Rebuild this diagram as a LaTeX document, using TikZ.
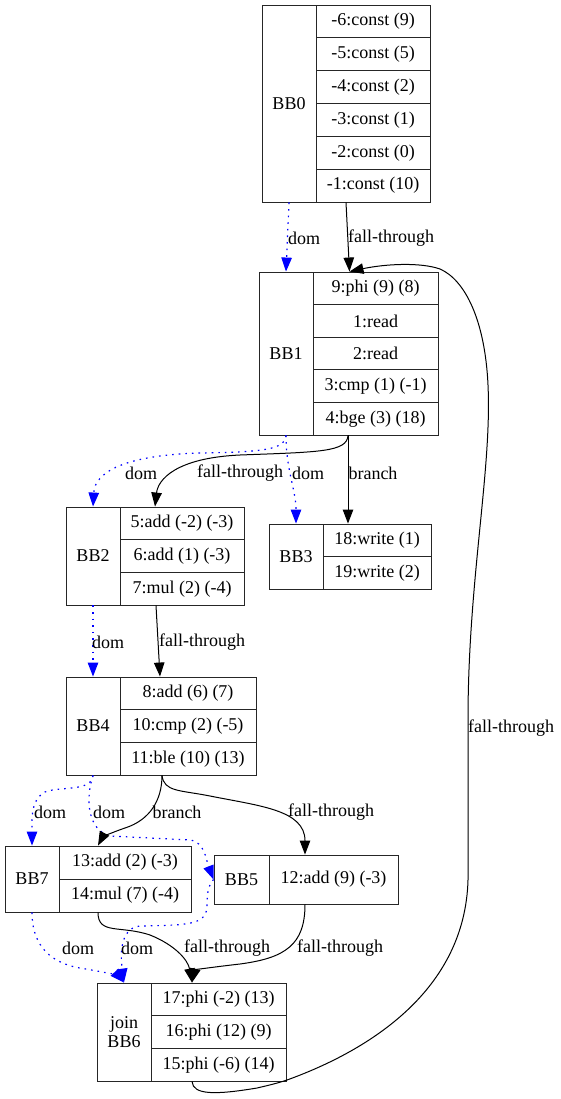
\documentclass[tikz,border=0pt]{standalone}
\usepackage{fontspec}
\setmainfont{Liberation Serif}
\usetikzlibrary{arrows.meta}
\begin{document}
\begin{tikzpicture}[x=1pt,y=-1pt,
  every node/.style={font=\rmfamily\fontsize{18}{20}\selectfont},
  cell/.style={draw=black!85, line width=0.9pt, inner sep=0pt, align=center},
  elabel/.style={inner sep=0pt},
  ft/.style={draw=black, line width=1pt, -{Triangle[length=14pt,width=10.5pt]}},
  dom/.style={draw=blue, line width=1.2pt, dash pattern=on 1.6pt off 5pt,
     -{Triangle[length=14pt,width=10.5pt,fill=blue,sep=0pt]}},
]
\useasboundingbox (0,0) rectangle (560,1099);

% BB0
\node[cell, minimum width=54, minimum height=197] (bb0) at (289,103.5) {BB0};
\node[cell, minimum width=114, minimum height=32.83] (bb0r1) at (373,21.42) {-6:const (9)};
\node[cell, minimum width=114, minimum height=32.83] (bb0r2) at (373,54.25) {-5:const (5)};
\node[cell, minimum width=114, minimum height=32.83] (bb0r3) at (373,87.08) {-4:const (2)};
\node[cell, minimum width=114, minimum height=32.83] (bb0r4) at (373,119.92) {-3:const (1)};
\node[cell, minimum width=114, minimum height=32.83] (bb0r5) at (373,152.75) {-2:const (0)};
\node[cell, minimum width=114, minimum height=32.83] (bb0r6) at (373,185.58) {-1:const (10)};

% BB1
\node[cell, minimum width=54, minimum height=163] (bb1) at (286,353.5) {BB1};
\node[cell, minimum width=125, minimum height=32.6] (bb1r1) at (375.5,288.3) {9:phi (9) (8)};
\node[cell, minimum width=125, minimum height=32.6] (bb1r2) at (375.5,320.9) {1:read};
\node[cell, minimum width=125, minimum height=32.6] (bb1r3) at (375.5,353.5) {2:read};
\node[cell, minimum width=125, minimum height=32.6] (bb1r4) at (375.5,386.1) {3:cmp (1) (-1)};
\node[cell, minimum width=125, minimum height=32.6] (bb1r5) at (375.5,418.7) {4:bge (3) (18)};

% BB2
\node[cell, minimum width=54, minimum height=98] (bb2) at (93,556) {BB2};
\node[cell, minimum width=124, minimum height=32.67] (bb2r1) at (182,523.33) {5:add (-2) (-3)};
\node[cell, minimum width=124, minimum height=32.67] (bb2r2) at (182,556) {6:add (1) (-3)};
\node[cell, minimum width=124, minimum height=32.67] (bb2r3) at (182,588.67) {7:mul (2) (-4)};

% BB3
\node[cell, minimum width=54, minimum height=65] (bb3) at (296,556.5) {BB3};
\node[cell, minimum width=108, minimum height=32.5] (bb3r1) at (377,540.25) {18:write (1)};
\node[cell, minimum width=108, minimum height=32.5] (bb3r2) at (377,572.75) {19:write (2)};

% BB4
\node[cell, minimum width=54, minimum height=98] (bb4) at (93,726) {BB4};
\node[cell, minimum width=136, minimum height=32.67] (bb4r1) at (188,693.33) {8:add (6) (7)};
\node[cell, minimum width=136, minimum height=32.67] (bb4r2) at (188,726) {10:cmp (2) (-5)};
\node[cell, minimum width=136, minimum height=32.67] (bb4r3) at (188,758.67) {11:ble (10) (13)};

% BB7
\node[cell, minimum width=54, minimum height=66] (bb7) at (32,879) {BB7};
\node[cell, minimum width=132, minimum height=33] (bb7r1) at (125,862.5) {13:add (2) (-3)};
\node[cell, minimum width=132, minimum height=33] (bb7r2) at (125,895.5) {14:mul (7) (-4)};

% BB5
\node[cell, minimum width=55, minimum height=49] (bb5) at (241.5,879.5) {BB5};
\node[cell, minimum width=129, minimum height=49] (bb5r1) at (333.5,879.5) {12:add (9) (-3)};

% BB6
\node[cell, minimum width=54, minimum height=98] (bb6) at (124,1032) {join\\[-1pt]BB6};
\node[cell, minimum width=135, minimum height=32.67] (bb6r1) at (218.5,999.33) {17:phi (-2) (13)};
\node[cell, minimum width=135, minimum height=32.67] (bb6r2) at (218.5,1032) {16:phi (12) (9)};
\node[cell, minimum width=135, minimum height=32.67] (bb6r3) at (218.5,1064.67) {15:phi (-6) (14)};

% edges BB0 -> BB1
\draw[dom] (bb0.south) -- (bb1.north);
\draw[ft] ([xshift=-27pt]bb0r6.south) -- ([xshift=-26pt]bb1r1.north);
\node[elabel] (l1) at (304,238) {dom};
\node[elabel] (l2) at (391,238) {fall-through};

% BB6 -> BB1 (long back edge)
\draw[ft] ([xshift=-26.5pt]bb6r3.south) .. controls (193,1095) and (215,1095) .. (257,1088)
  .. controls (270,1085) and (278,1083) .. (287,1080)
  .. controls (370,1050) and (465,990) .. (468,880)
  -- (468,720)
  .. controls (468,580) and (492,470) .. (488,385)
  .. controls (485,320) and (465,280) .. (440,269)
  .. controls (420,262) and (385,264) .. ([xshift=-26pt]bb1r1.north);
\node[elabel] (l3) at (511,728) {fall-through};

% BB1 -> BB2 / BB3
\draw[dom] (bb1.south) .. controls (285,450) and (262,452) .. (200,453)
  .. controls (130,455) and (95,470) .. (bb2.north);
\draw[ft] ([xshift=-27.5pt]bb1r5.south) .. controls (347,452) and (320,452) .. (240,455)
  .. controls (175,458) and (158,480) .. ([xshift=-27pt]bb2r1.north);
\draw[dom] (bb1.south) .. controls (286,470) and (296,490) .. (bb3.north);
\draw[ft] ([xshift=-27.5pt]bb1r5.south) -- ([xshift=-29pt]bb3r1.north);
\node[elabel] (l4) at (141,473) {dom};
\node[elabel] (l5) at (240,473) {fall-through};
\node[elabel] (l6) at (308,473) {dom};
\node[elabel] (l7) at (373,473) {branch};

% BB2 -> BB4
\draw[dom] (bb2.south) -- (bb4.north);
\draw[ft] ([xshift=-26pt]bb2r3.south) -- ([xshift=-28pt]bb4r1.north);
\node[elabel] (l8) at (108,642) {dom};
\node[elabel] (l9) at (202,642) {fall-through};

% BB4 -> BB7 / BB5
\draw[dom] (bb4.south) .. controls (92,792) and (60,786) .. (45,792)
  .. controls (30,800) and (32,820) .. (bb7.north);
\draw[dom] (bb4.south) .. controls (85,800) and (88,830) .. (110,836)
  -- (190,840) .. controls (205,842) and (206,860) .. (bb5.west);
\draw[ft] ([xshift=-26pt]bb4r3.south) .. controls (162,800) and (150,820) .. (125,828)
  .. controls (110,833) and (102,838) .. ([xshift=-27pt]bb7r1.north);
\draw[ft] ([xshift=-26pt]bb4r3.south) .. controls (164,792) and (180,790) .. (210,796)
  .. controls (260,806) and (305,810) .. ([xshift=-28.5pt]bb5r1.north);
\node[elabel] (l10) at (50,812) {dom};
\node[elabel] (l11) at (109,812) {dom};
\node[elabel] (l12) at (177,812) {branch};
\node[elabel] (l13) at (331,812) {fall-through};

% BB7 / BB5 -> BB6
\draw[dom] (bb7.south) .. controls (32,940) and (45,962) .. (80,968)
  .. controls (105,972) and (118,976) .. (bb6.north);
\draw[dom] (bb5.west) .. controls (208,885) and (207,895) .. (207,905)
  .. controls (207,925) and (190,925) .. (140,926)
  .. controls (118,928) and (121,960) .. (bb6.north);
\draw[ft] ([xshift=-27pt]bb7r2.south) .. controls (98,935) and (120,925) .. (150,935)
  .. controls (175,945) and (188,960) .. ([xshift=-26.5pt]bb6r1.north);
\draw[ft] ([xshift=-28.5pt]bb5r1.south) .. controls (305,945) and (285,958) .. (240,964)
  .. controls (205,968) and (195,970) .. ([xshift=-26.5pt]bb6r1.north);
\node[elabel] (l14) at (78,948) {dom};
\node[elabel] (l15) at (137,948) {dom};
\node[elabel] (l16) at (227,948) {fall-through};
\node[elabel] (l17) at (340,948) {fall-through};
\end{tikzpicture}
\end{document}
